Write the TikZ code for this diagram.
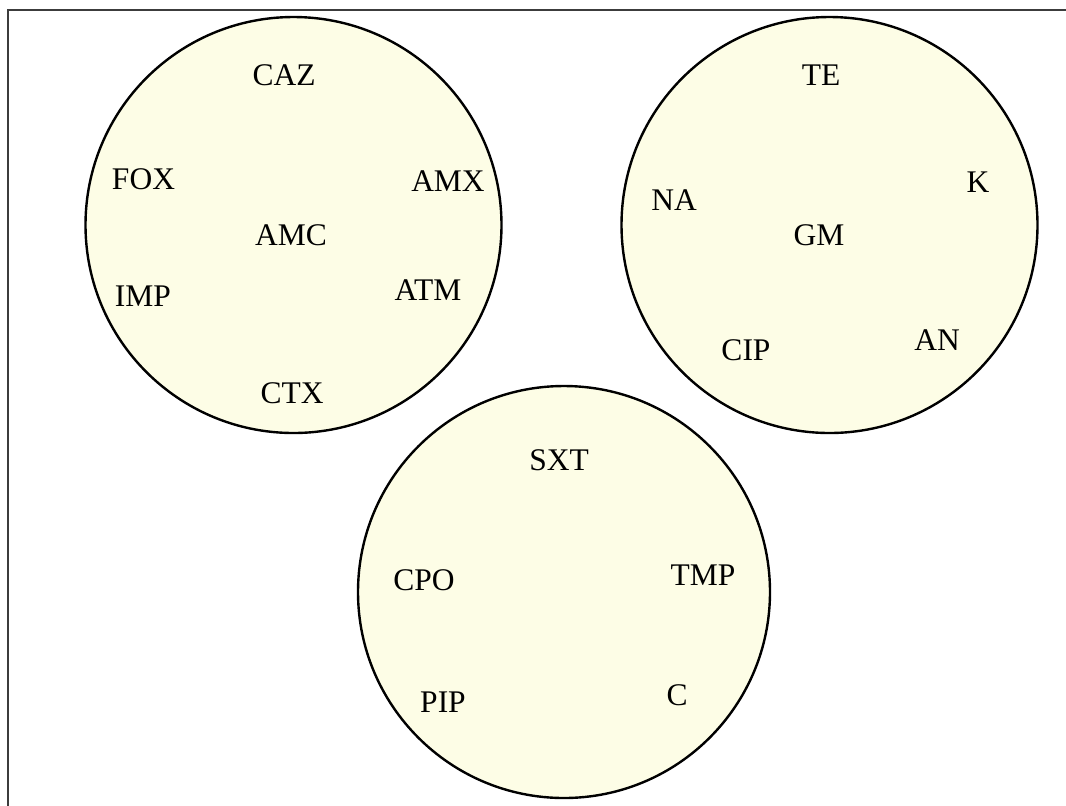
\documentclass[tikz,border=0pt]{standalone}
\usepackage{fontspec}
\setmainfont{Liberation Serif}
\definecolor{setfill}{RGB}{253,253,230}
\definecolor{framegray}{RGB}{60,60,60}
\begin{document}
\begin{tikzpicture}[x=0.5pt,y=-0.5pt,
  setcircle/.style={draw=black,line width=1.2pt,fill=setfill},
  lbl/.style={anchor=base,inner sep=0pt,font=\fontsize{15.75}{18}\selectfont}]
\clip (0,0) rectangle (1066,805);
\draw[framegray,line width=1pt] (8,10) rectangle (1080,830);
\draw[setcircle] (293.5,225) circle[radius=104pt];
\draw[setcircle] (829.5,225) circle[radius=104pt];
\draw[setcircle] (564,592) circle[radius=103pt];
% circle 1
\node[lbl] (caz) at (284,85) {CAZ};
\node[lbl] (fox) at (143.5,189) {FOX};
\node[lbl] (amx) at (448,191) {AMX};
\node[lbl] (amc) at (291,245) {AMC};
\node[lbl] (imp) at (143,306) {IMP};
\node[lbl] (atm) at (428,300) {ATM};
\node[lbl] (ctx) at (292,403) {CTX};
% circle 2
\node[lbl] (te) at (821,85) {TE};
\node[lbl] (k) at (978,192) {K};
\node[lbl] (na) at (674,210) {NA};
\node[lbl] (gm) at (819,245) {GM};
\node[lbl] (cip) at (746,360) {CIP};
\node[lbl] (an) at (937,350) {AN};
% circle 3
\node[lbl] (sxt) at (559,470) {SXT};
\node[lbl] (cpo) at (424,590) {CPO};
\node[lbl] (tmp) at (703,585) {TMP};
\node[lbl] (pip) at (443,712) {PIP};
\node[lbl] (c) at (677,705) {C};
\end{tikzpicture}
\end{document}
